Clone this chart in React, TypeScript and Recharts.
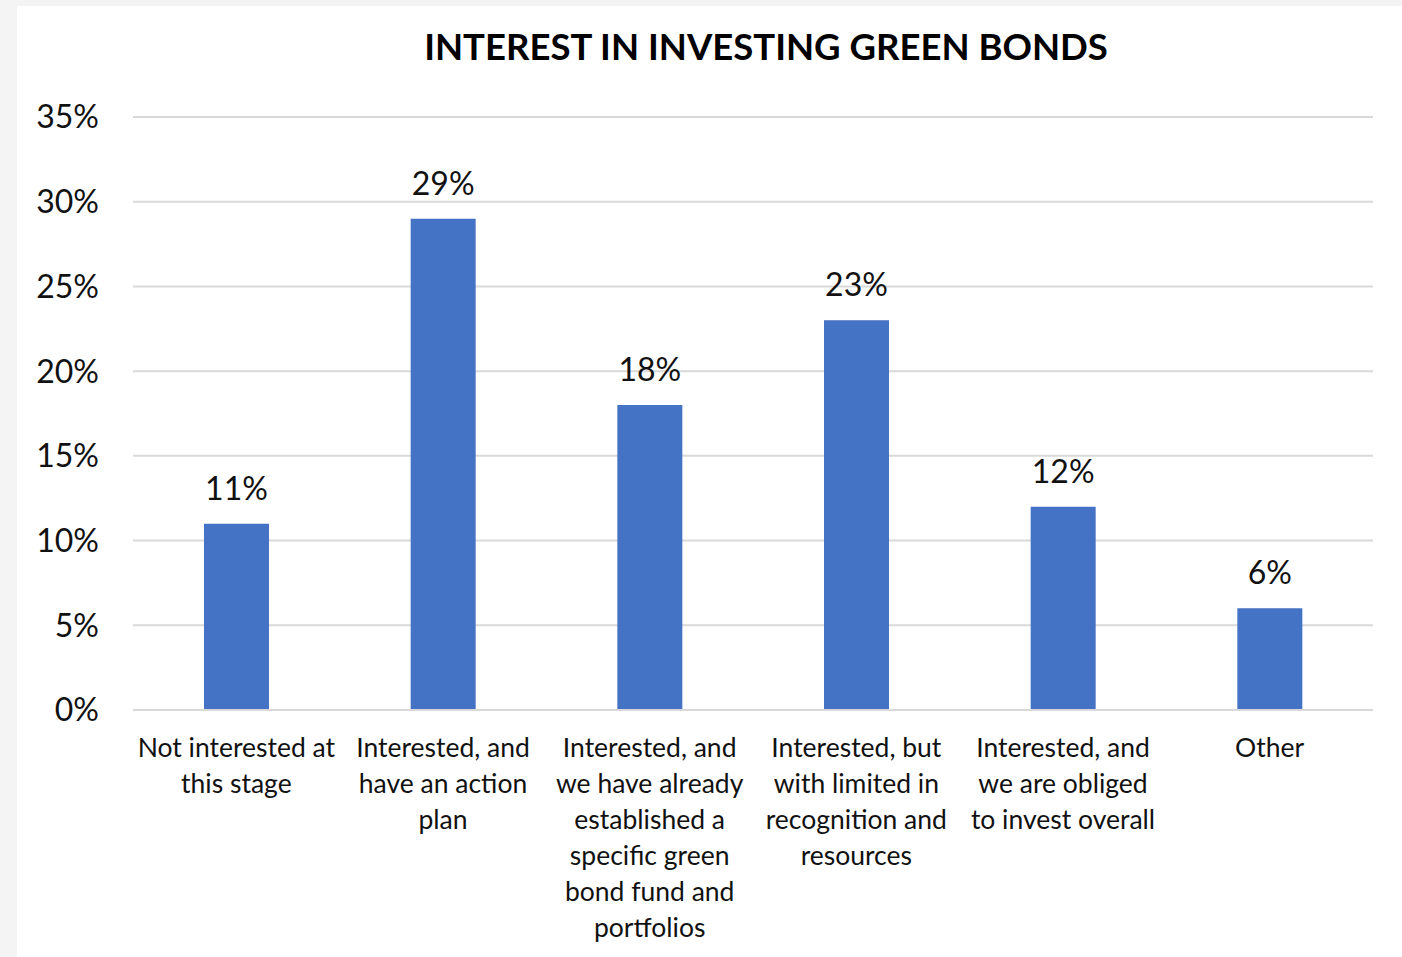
import { BarChart, Bar, XAxis, YAxis, CartesianGrid, LabelList } from 'recharts';

const categories = [
  'Not interested at\nthis stage',
  'Interested, and\nhave an action\nplan',
  'Interested, and\nwe have already\nestablished a\nspecific green\nbond fund and\nportfolios',
  'Interested, but\nwith limited in\nrecognition and\nresources',
  'Interested, and\nwe are obliged\nto invest overall',
  'Other',
];
const shares = [11, 29, 18, 23, 12, 6];
const yTicks = [0, 5, 10, 15, 20, 25, 30, 35];

const data = categories.map((name, i) => ({ name, share: shares[i] }));

const FONT = 'Lato, "Open Sans", sans-serif';

function CategoryTick({ x, y, payload }: any) {
  const lines = String(payload.value).split('\n');
  return (
    <text x={x} y={y} textAnchor="middle" fill="#111" fontSize={26.5} fontFamily={FONT}>
      {lines.map((line, i) => (
        <tspan key={i} x={x} dy={i === 0 ? 39 : 36}>
          {line}
        </tspan>
      ))}
    </text>
  );
}

export default function App() {
  return (
    <div style={{ position: 'absolute', left: 0, top: 0, width: 1402, height: 957, background: '#f4f4f4', overflow: 'hidden' }}>
      <div style={{ position: 'absolute', left: 17, top: 6, width: 1385, height: 951, background: '#fff' }}>
        <div
          style={{
            position: 'absolute',
            left: 0,
            width: 1498,
            top: 19,
            textAlign: 'center',
            fontFamily: FONT,
            fontWeight: 700,
            fontSize: 36.5,
            color: '#000',
            lineHeight: '42px',
          }}
        >
          INTEREST IN INVESTING GREEN BONDS
        </div>
        <BarChart width={1385} height={951} data={data} margin={{ top: 111, right: 29, bottom: 7, left: 0 }}>
          <CartesianGrid vertical={false} stroke="#d9d9d9" strokeWidth={2} />
          <XAxis
            dataKey="name"
            interval={0}
            height={240}
            tickLine={false}
            axisLine={{ stroke: '#d9d9d9', strokeWidth: 2 }}
            tick={<CategoryTick />}
          />
          <YAxis
            domain={[0, 35]}
            ticks={yTicks}
            width={116}
            tickSize={0}
            tickMargin={34}
            axisLine={false}
            tickLine={false}
            tickFormatter={(v) => `${v}%`}
            tick={{ fill: '#111', fontSize: 32, fontFamily: FONT }}
          />
          <Bar dataKey="share" fill="#4472c4" barSize={65} isAnimationActive={false}>
            <LabelList
              dataKey="share"
              position="top"
              offset={24}
              formatter={(v: any) => `${v}%`}
              style={{ fill: '#111', fontSize: 32, fontFamily: FONT }}
            />
          </Bar>
        </BarChart>
      </div>
    </div>
  );
}
